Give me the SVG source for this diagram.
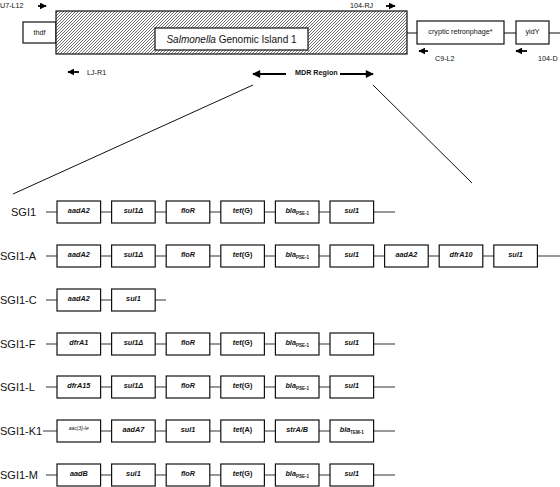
<svg xmlns="http://www.w3.org/2000/svg" width="560" height="487" viewBox="0 0 560 487">
<style>
.box{fill:#fff;stroke:#111;stroke-width:1.2}
.ln{stroke:#333;stroke-width:1.2;fill:none}
.ar{stroke:#000;stroke-width:1.8;fill:none}
.g{font-family:"Liberation Sans",Arial,sans-serif;font-size:7.3px;font-weight:bold;font-style:italic;text-anchor:middle;fill:#111}
.n{font-style:normal}
.sub{font-size:4.5px;font-style:normal}
.lbl{font-family:"Liberation Sans",Arial,sans-serif;font-size:11px;fill:#111}
.t{font-family:"Liberation Sans",Arial,sans-serif;font-size:7.2px;fill:#111}
.tm{text-anchor:middle}
</style>
<defs>
<pattern id="hatch" patternUnits="userSpaceOnUse" width="3" height="3">
<path d="M0,3 L3,0 M-1,1 L1,-1 M2,4 L4,2" stroke="#333" stroke-width="0.7"/>
</pattern>
<marker id="ah" viewBox="0 0 10 10" refX="9" refY="5" markerUnits="userSpaceOnUse" markerWidth="7" markerHeight="7" orient="auto">
<path d="M0,0 L10,5 L0,10 z" fill="#000"/>
</marker>
<marker id="ahb" viewBox="0 0 10 10" refX="9" refY="5" markerUnits="userSpaceOnUse" markerWidth="9" markerHeight="8" orient="auto">
<path d="M0,0 L10,5 L0,10 z" fill="#000"/>
</marker>
</defs>

<g id="connectors">
<line class="ln" x1="407" y1="33" x2="417" y2="33"/>
<line class="ln" x1="504" y1="33" x2="516" y2="33"/>
<line class="ln" x1="549" y1="33" x2="560" y2="33"/>
<line class="ar" x1="38" y1="6" x2="46" y2="6" marker-end="url(#ah)"/>
<line class="ar" x1="386" y1="6" x2="395" y2="6" marker-end="url(#ah)"/>
<line class="ar" x1="428" y1="51" x2="419" y2="51" marker-end="url(#ah)"/>
<line class="ar" x1="527" y1="51" x2="516" y2="51" marker-end="url(#ah)"/>
<line class="ar" x1="79" y1="72" x2="68" y2="72" marker-end="url(#ah)"/>
<line class="ar" x1="286" y1="74" x2="253" y2="74" marker-end="url(#ahb)"/>
<line class="ar" x1="340" y1="74" x2="373" y2="74" marker-end="url(#ahb)"/>
<line stroke="#111" stroke-width="1" x1="253" y1="85" x2="13" y2="194"/>
<line stroke="#111" stroke-width="1" x1="373" y1="85" x2="472" y2="183"/>
<line class="ln" x1="46" y1="212" x2="395" y2="212"/>
<line class="ln" x1="46" y1="256" x2="560" y2="256"/>
<line class="ln" x1="46" y1="300" x2="166" y2="300"/>
<line class="ln" x1="46" y1="344" x2="395" y2="344"/>
<line class="ln" x1="46" y1="387" x2="395" y2="387"/>
<line class="ln" x1="43" y1="431" x2="395" y2="431"/>
<line class="ln" x1="46" y1="475" x2="395" y2="475"/>
</g>

<g id="thdf">
<rect class="box" x="23" y="22" width="33" height="21"/>
<text class="t tm" x="39.5" y="35">thdf</text>
</g>
<g id="sgi1-island">
<rect x="56" y="11" width="351" height="43" fill="#fff"/>
<rect x="56" y="11" width="351" height="43" fill="url(#hatch)" stroke="#111" stroke-width="1.2"/>
<rect class="box" x="155" y="28" width="153" height="22"/>
<text x="231.5" y="43" font-family="'Liberation Sans',Arial,sans-serif" font-size="10" text-anchor="middle" fill="#111"><tspan font-style="italic">Salmonella</tspan> Genomic Island 1</text>
</g>
<g id="retronphage">
<rect class="box" x="417" y="21" width="87" height="23"/>
<text class="t tm" x="460.5" y="34">cryptic retronphage*</text>
</g>
<g id="yidY">
<rect class="box" x="516" y="21" width="33" height="23"/>
<text class="t tm" x="532.5" y="34">yidY</text>
</g>
<g id="primer-labels">
<text class="t" x="0" y="8">U7-L12</text>
<text class="t" x="350" y="8">104-RJ</text>
<text class="t" x="435" y="61">C9-L2</text>
<text class="t" x="538" y="61">104-D</text>
<text class="t" x="87" y="75">LJ-R1</text>
<text class="t" x="295" y="75" font-weight="bold">MDR Region</text>
</g>

<g id="row-SGI1" transform="translate(0,212)">
<text class="lbl" x="11" y="4">SGI1</text>
<g id="SGI1-1"><rect class="box" x="57" y="-11" width="43.6" height="22"/><text class="g" x="78.8" y="1">aadA2</text></g>
<g id="SGI1-2"><rect class="box" x="111.6" y="-11" width="43.6" height="22"/><text class="g" x="133.4" y="1">sul1Δ</text></g>
<g id="SGI1-3"><rect class="box" x="166.2" y="-11" width="43.6" height="22"/><text class="g" x="188" y="1">floR</text></g>
<g id="SGI1-4"><rect class="box" x="220.8" y="-11" width="43.6" height="22"/><text class="g" x="242.6" y="1">tet<tspan class="n">(G)</tspan></text></g>
<g id="SGI1-5"><rect class="box" x="275.4" y="-11" width="43.6" height="22"/><text class="g" x="297.2" y="1">bla<tspan class="sub" dy="1.5">PSE-1</tspan></text></g>
<g id="SGI1-6"><rect class="box" x="330" y="-11" width="43.6" height="22"/><text class="g" x="351.8" y="1">sul1</text></g>
</g>

<g id="row-SGI1-A" transform="translate(0,256)">
<text class="lbl" x="0" y="4">SGI1-A</text>
<g id="A-1"><rect class="box" x="57" y="-11" width="43.6" height="22"/><text class="g" x="78.8" y="1">aadA2</text></g>
<g id="A-2"><rect class="box" x="111.6" y="-11" width="43.6" height="22"/><text class="g" x="133.4" y="1">sul1Δ</text></g>
<g id="A-3"><rect class="box" x="166.2" y="-11" width="43.6" height="22"/><text class="g" x="188" y="1">floR</text></g>
<g id="A-4"><rect class="box" x="220.8" y="-11" width="43.6" height="22"/><text class="g" x="242.6" y="1">tet<tspan class="n">(G)</tspan></text></g>
<g id="A-5"><rect class="box" x="275.4" y="-11" width="43.6" height="22"/><text class="g" x="297.2" y="1">bla<tspan class="sub" dy="1.5">PSE-1</tspan></text></g>
<g id="A-6"><rect class="box" x="330" y="-11" width="43.6" height="22"/><text class="g" x="351.8" y="1">sul1</text></g>
<g id="A-7"><rect class="box" x="384.6" y="-11" width="43.6" height="22"/><text class="g" x="406.4" y="1">aadA2</text></g>
<g id="A-8"><rect class="box" x="439.2" y="-11" width="43.6" height="22"/><text class="g" x="461" y="1">dfrA10</text></g>
<g id="A-9"><rect class="box" x="493.8" y="-11" width="43.6" height="22"/><text class="g" x="515.6" y="1">sul1</text></g>
</g>

<g id="row-SGI1-C" transform="translate(0,300)">
<text class="lbl" x="0" y="4">SGI1-C</text>
<g id="C-1"><rect class="box" x="57" y="-11" width="43.6" height="22"/><text class="g" x="78.8" y="1">aadA2</text></g>
<g id="C-2"><rect class="box" x="111.6" y="-11" width="43.6" height="22"/><text class="g" x="133.4" y="1">sul1</text></g>
</g>

<g id="row-SGI1-F" transform="translate(0,344)">
<text class="lbl" x="0" y="4">SGI1-F</text>
<g id="F-1"><rect class="box" x="57" y="-11" width="43.6" height="22"/><text class="g" x="78.8" y="1">dfrA1</text></g>
<g id="F-2"><rect class="box" x="111.6" y="-11" width="43.6" height="22"/><text class="g" x="133.4" y="1">sul1Δ</text></g>
<g id="F-3"><rect class="box" x="166.2" y="-11" width="43.6" height="22"/><text class="g" x="188" y="1">floR</text></g>
<g id="F-4"><rect class="box" x="220.8" y="-11" width="43.6" height="22"/><text class="g" x="242.6" y="1">tet<tspan class="n">(G)</tspan></text></g>
<g id="F-5"><rect class="box" x="275.4" y="-11" width="43.6" height="22"/><text class="g" x="297.2" y="1">bla<tspan class="sub" dy="1.5">PSE-1</tspan></text></g>
<g id="F-6"><rect class="box" x="330" y="-11" width="43.6" height="22"/><text class="g" x="351.8" y="1">sul1</text></g>
</g>

<g id="row-SGI1-L" transform="translate(0,387)">
<text class="lbl" x="0" y="4">SGI1-L</text>
<g id="L-1"><rect class="box" x="57" y="-11" width="43.6" height="22"/><text class="g" x="78.8" y="1">dfrA15</text></g>
<g id="L-2"><rect class="box" x="111.6" y="-11" width="43.6" height="22"/><text class="g" x="133.4" y="1">sul1Δ</text></g>
<g id="L-3"><rect class="box" x="166.2" y="-11" width="43.6" height="22"/><text class="g" x="188" y="1">floR</text></g>
<g id="L-4"><rect class="box" x="220.8" y="-11" width="43.6" height="22"/><text class="g" x="242.6" y="1">tet<tspan class="n">(G)</tspan></text></g>
<g id="L-5"><rect class="box" x="275.4" y="-11" width="43.6" height="22"/><text class="g" x="297.2" y="1">bla<tspan class="sub" dy="1.5">PSE-1</tspan></text></g>
<g id="L-6"><rect class="box" x="330" y="-11" width="43.6" height="22"/><text class="g" x="351.8" y="1">sul1</text></g>
</g>

<g id="row-SGI1-K1" transform="translate(0,431)">
<text class="lbl" x="0" y="4">SGI1-K1</text>
<g id="K1-1"><rect class="box" x="57" y="-11" width="43.6" height="22"/><text class="g" x="78.8" y="-1.5" style="font-size:5px;font-weight:normal">aac(3)-Ie</text></g>
<g id="K1-2"><rect class="box" x="111.6" y="-11" width="43.6" height="22"/><text class="g" x="133.4" y="1">aadA7</text></g>
<g id="K1-3"><rect class="box" x="166.2" y="-11" width="43.6" height="22"/><text class="g" x="188" y="1">sul1</text></g>
<g id="K1-4"><rect class="box" x="220.8" y="-11" width="43.6" height="22"/><text class="g" x="242.6" y="1">tet<tspan class="n">(A)</tspan></text></g>
<g id="K1-5"><rect class="box" x="275.4" y="-11" width="43.6" height="22"/><text class="g" x="297.2" y="1">strA/B</text></g>
<g id="K1-6"><rect class="box" x="330" y="-11" width="43.6" height="22"/><text class="g" x="351.8" y="1">bla<tspan class="sub" dy="1.5">TEM-1</tspan></text></g>
</g>

<g id="row-SGI1-M" transform="translate(0,475)">
<text class="lbl" x="0" y="4">SGI1-M</text>
<g id="M-1"><rect class="box" x="57" y="-11" width="43.6" height="22"/><text class="g" x="78.8" y="1">aadB</text></g>
<g id="M-2"><rect class="box" x="111.6" y="-11" width="43.6" height="22"/><text class="g" x="133.4" y="1">sul1</text></g>
<g id="M-3"><rect class="box" x="166.2" y="-11" width="43.6" height="22"/><text class="g" x="188" y="1">floR</text></g>
<g id="M-4"><rect class="box" x="220.8" y="-11" width="43.6" height="22"/><text class="g" x="242.6" y="1">tet<tspan class="n">(G)</tspan></text></g>
<g id="M-5"><rect class="box" x="275.4" y="-11" width="43.6" height="22"/><text class="g" x="297.2" y="1">bla<tspan class="sub" dy="1.5">PSE-1</tspan></text></g>
<g id="M-6"><rect class="box" x="330" y="-11" width="43.6" height="22"/><text class="g" x="351.8" y="1">sul1</text></g>
</g>
</svg>
